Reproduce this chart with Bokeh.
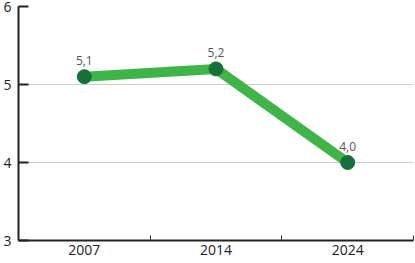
from bokeh.plotting import figure
from bokeh.models import FixedTicker, Range1d, ColumnDataSource, LabelSet
from bokeh.core.properties import value
from bokeh.embed import file_html
from bokeh.resources import INLINE

years = ["2007", "2014", "2024"]
values = [5.1, 5.2, 4.0]
value_labels = ["5,1", "5,2", "4,0"]
y_ticks = [3, 4, 5, 6]

xs = [i + 0.5 for i in range(len(years))]
src = ColumnDataSource(dict(x=xs, y=values, lab=value_labels))

p = figure(width=415, height=263, output_backend="svg", toolbar_location=None,
           x_range=Range1d(0, len(years)), y_range=Range1d(3, 6),
           min_border_left=15, min_border_right=2, min_border_top=6, min_border_bottom=23)
p.outline_line_color = None
p.background_fill_color = "white"
p.border_fill_color = "white"

font = "Open Sans"

p.line("x", "y", source=src, line_color="#3fb549", line_width=10)
p.scatter("x", "y", source=src, size=14, fill_color="#17703a", line_color="#17703a")
labels = LabelSet(x="x", y="y", text="lab", source=src, text_align="center",
                  text_baseline="bottom", y_offset=12, text_font_size="12px",
                  text_color="#555555", text_font=value(font))
p.add_layout(labels)

p.xaxis.ticker = FixedTicker(ticks=xs, minor_ticks=list(range(len(years) + 1)))
p.xaxis.major_label_overrides = {x: y for x, y in zip(xs, years)}
p.xaxis.major_tick_in = 0
p.xaxis.major_tick_out = 0
p.xaxis.minor_tick_in = 5
p.xaxis.minor_tick_out = 0
p.xaxis.minor_tick_line_color = "#333333"
p.xaxis.axis_line_color = "#222222"
p.xaxis.axis_line_width = 2
p.xaxis.major_label_text_font = font
p.xaxis.major_label_text_font_size = "14px"
p.xaxis.major_label_text_color = "#222222"
p.xaxis.major_label_standoff = 4
p.xgrid.grid_line_color = None

p.yaxis.ticker = FixedTicker(ticks=y_ticks)
p.yaxis.major_tick_in = 10
p.yaxis.major_tick_out = 0
p.yaxis.major_tick_line_color = "#222222"
p.yaxis.major_tick_line_width = 2
p.yaxis.minor_tick_line_color = None
p.yaxis.axis_line_color = "#222222"
p.yaxis.axis_line_width = 2
p.yaxis.major_label_text_font = font
p.yaxis.major_label_text_font_size = "14px"
p.yaxis.major_label_text_color = "#222222"
p.yaxis.major_label_standoff = 7
p.ygrid.grid_line_color = "#cccccc"
p.ygrid.grid_line_width = 1

open("out.html", "w").write(file_html(p, INLINE))
